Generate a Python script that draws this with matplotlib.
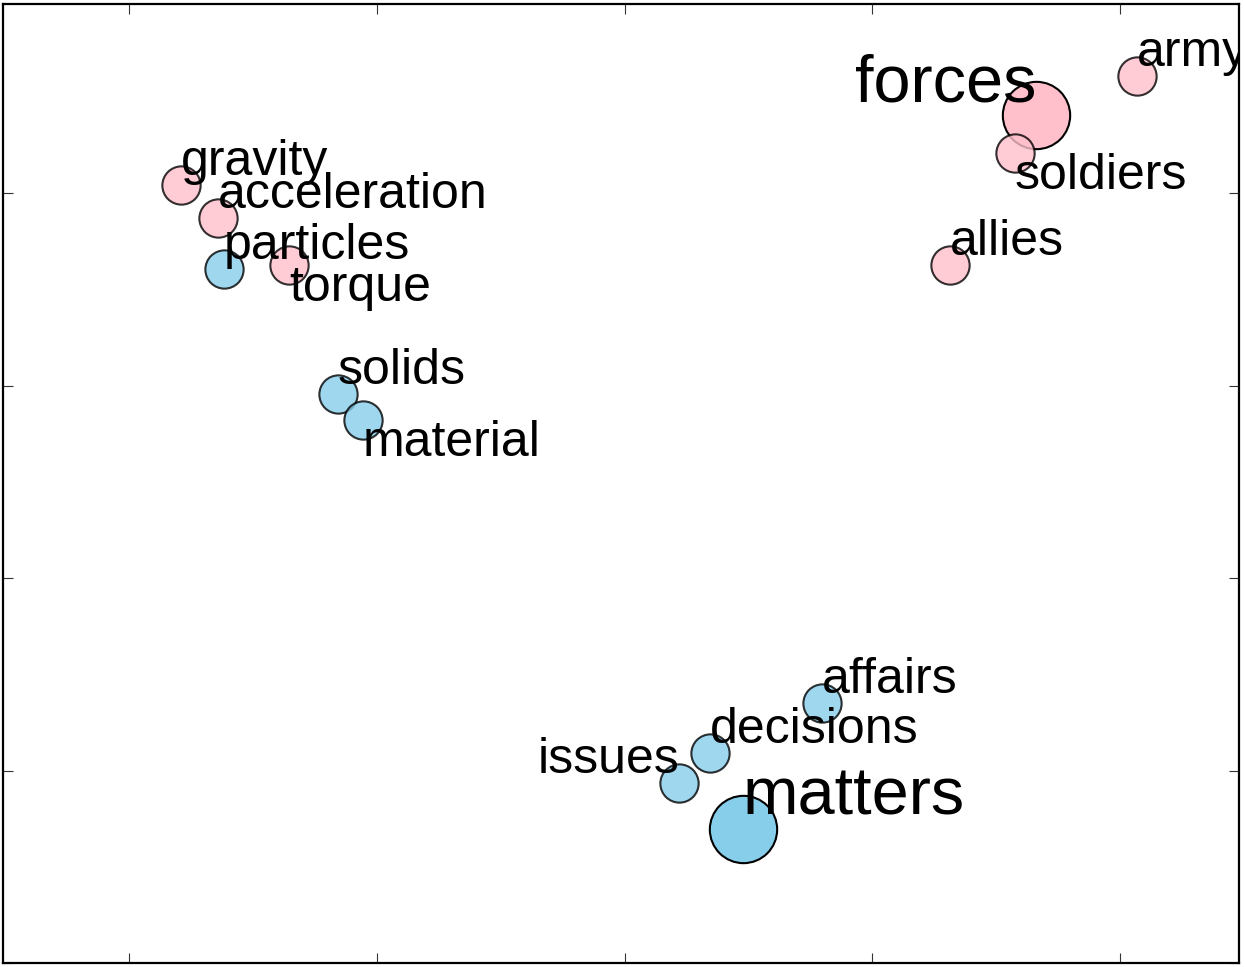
import matplotlib
matplotlib.use("Agg")
import matplotlib.pyplot as plt

words = ["gravity", "acceleration", "particles", "torque", "solids", "material",
         "forces", "soldiers", "army", "allies",
         "affairs", "decisions", "issues", "matters"]
xs = [0.210, 0.359, 0.383, 0.646, 0.843, 0.944,
      3.661, 3.576, 4.069, 3.314,
      2.797, 2.345, 2.220, 2.478]
ys = [4.042, 3.870, 3.605, 3.626, 2.955, 2.819,
      4.406, 4.208, 4.609, 3.626,
      1.352, 1.092, 0.936, 0.697]
groups = ["pink", "pink", "blue", "pink", "blue", "blue",
          "pink", "pink", "pink", "pink",
          "blue", "blue", "blue", "blue"]
is_query = [False, False, False, False, False, False,
            True, False, False, False,
            False, False, False, True]

# label placement (style)
ha_list = ["left", "left", "left", "left", "left", "left",
           "right", "left", "left", "left",
           "left", "left", "right", "left"]
va_list = ["bottom", "bottom", "bottom", "top", "bottom", "top",
           "bottom", "top", "bottom", "bottom",
           "bottom", "bottom", "bottom", "bottom"]

colors = {"pink": "#FFC0CB", "blue": "#87CEEB"}

fig = plt.figure(figsize=(12.45, 9.67), dpi=100)
ax = fig.add_axes([3 / 1245, 4 / 967, 1236 / 1245, 959 / 967])

for x, y, g, q, w, ha, va in zip(xs, ys, groups, is_query, words, ha_list, va_list):
    if q:
        ax.scatter([x], [y], s=2350, color=colors[g], edgecolors="black",
                   linewidths=1.5, alpha=1.0, zorder=2)
        ax.text(x, y, w, fontsize=48, ha=ha, va=va, family="Liberation Sans",
                zorder=3, clip_on=True)
    else:
        ax.scatter([x], [y], s=760, color=colors[g], edgecolors="black",
                   linewidths=1.5, alpha=0.8, zorder=2)
        ax.text(x, y, w, fontsize=36, ha=ha, va=va, family="Liberation Sans",
                zorder=3, clip_on=True)

ax.set_xlim(-0.509, 4.48)
ax.set_ylim(0, 4.983)
ax.set_xticks([0, 1, 2, 3, 4])
ax.set_yticks([0, 1, 2, 3, 4])
ax.set_xticklabels([])
ax.set_yticklabels([])
ax.tick_params(direction="in", length=7, width=0.8, top=True, right=True, color="#333333")
for sp in ax.spines.values():
    sp.set_linewidth(1.6)

fig.savefig("out.png", dpi=100)
